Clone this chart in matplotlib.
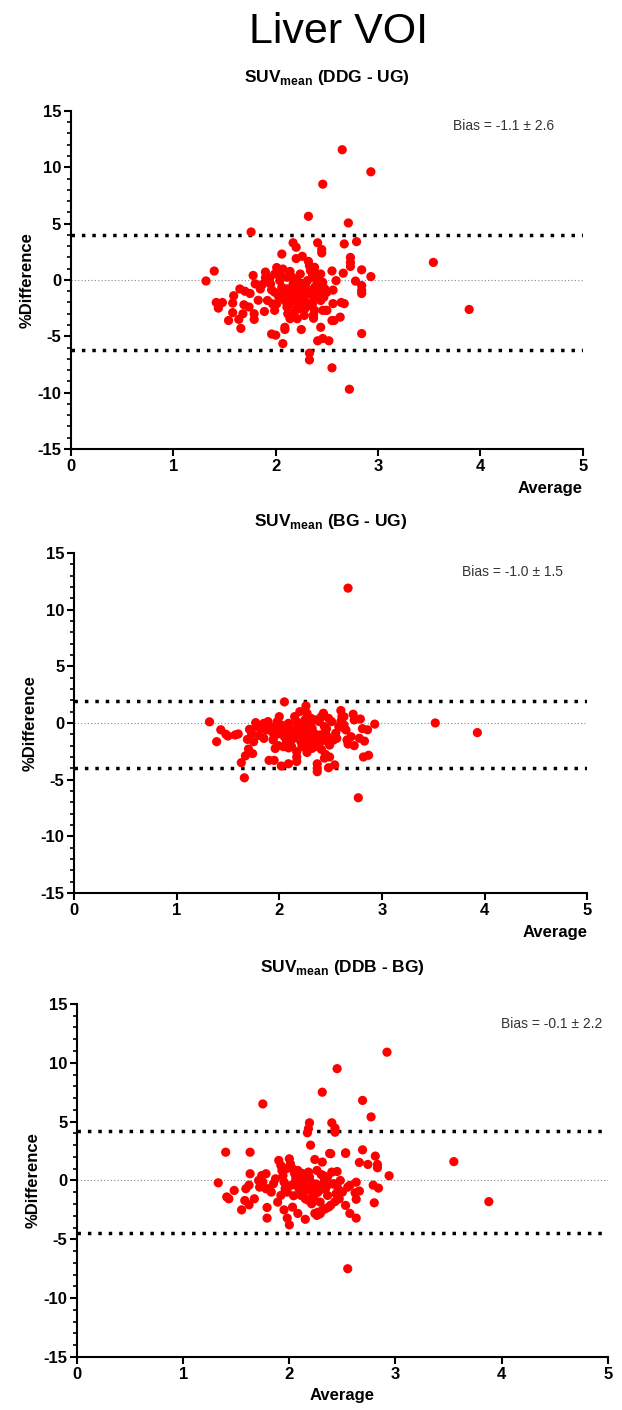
import matplotlib
matplotlib.use("Agg")
import matplotlib.pyplot as plt
from matplotlib.ticker import MultipleLocator

plt.rcParams['font.family'] = ['Liberation Sans', 'DejaVu Sans']
plt.rcParams['mathtext.fontset'] = 'custom'
plt.rcParams['mathtext.rm'] = 'Liberation Sans:bold'
plt.rcParams['mathtext.bf'] = 'Liberation Sans:bold'
plt.rcParams['axes.unicode_minus'] = False

# ---- data ----
# SUVmean (DDG - UG)
ddg_ug_avg = [2.65, 2.93, 2.46, 2.32, 2.71, 1.76, 3.54, 3.89, 1.32, 1.40, 2.84, 2.33, 2.33, 2.55, 2.72,
              2.07, 1.96, 2.00, 2.41, 2.46, 2.52, 2.44, 2.25, 2.09, 2.09, 1.66, 1.54, 1.79, 1.89, 1.68,
              1.58, 1.64, 1.44, 1.42, 1.48, 1.58, 1.59, 1.69, 1.74, 1.79, 1.65, 1.70, 1.75, 1.78, 1.80,
              1.85, 1.90, 1.90, 2.01, 2.06, 2.17, 2.20, 2.20, 2.26, 2.41, 2.45, 2.45, 2.67, 2.79, 2.73,
              2.73, 2.73, 2.66, 2.84, 2.78, 2.84, 2.84, 2.84, 2.93, 2.55, 2.59, 2.56, 2.56, 2.64, 2.67,
              2.63, 2.57, 2.55, 2.46, 2.50, 2.37, 2.37,
              1.92, 1.95, 1.96, 1.97, 1.99, 2.02, 2.04, 2.06, 2.07, 2.09, 2.11, 2.12, 2.14, 2.16, 2.17,
              2.18, 2.19, 2.21, 2.22, 2.23, 2.24, 2.26, 2.28, 2.29, 2.31, 2.32, 2.33, 2.34, 2.36, 2.38,
              2.39, 2.40, 2.42, 2.43, 2.44, 2.47, 2.49, 2.38, 2.34, 2.28, 2.21, 2.14, 2.12, 2.26, 2.17,
              2.14, 2.21, 2.11, 2.06, 1.99, 2.01, 1.92, 2.44, 2.46, 2.48, 2.38, 2.37, 2.31, 2.24, 2.11,
              2.07, 1.99, 1.94, 2.50,
              2.19, 2.23, 2.27, 2.15, 2.30, 2.35, 2.20, 2.25, 2.18, 2.29, 2.10, 2.36, 2.03, 1.87, 1.83,
              2.42, 2.13, 2.28, 2.22, 2.05]
ddg_ug_diff = [11.56, 9.6, 8.5, 5.65, 5.06, 4.26, 1.56, -2.62, -0.09, 0.79, -4.76, -6.5, -7.1, -7.8, -9.7,
               -5.65, -4.8, -4.9, -5.4, -5.2, -5.4, -4.2, -4.4, -4.2, -4.4, -4.3, -3.6, -3.5, -2.8, -3.0,
               -2.9, -3.5, -2.5, -2.0, -2.0, -2.05, -1.4, -2.2, -2.4, -3.0, -0.8, -1.0, -1.2, 0.4, -0.35,
               -0.8, 0.7, 0.2, 1.1, 2.3, 3.3, 2.9, 1.9, 2.1, 3.3, 2.7, 2.4, 3.2, 3.4, 2.0,
               1.56, 1.2, 0.6, 0.9, -0.1, -0.5, -0.9, -1.2, 0.3, 0.8, -0.06, -0.9, -2.1, -2.0, -2.1,
               -3.3, -3.6, -3.6, -2.7, -2.7, -3.4, -3.1,
               0.24, -0.35, -0.88, -2.12, -2.7, 0.53, -0.06, -0.65, -1.24, -1.82, -2.41, -3.0, 0.76, 0.24, -0.35,
               -0.79, -1.24, -1.68, -2.12, -2.56, -1.97, -1.53, -0.94, -0.5, -0.06, 1.65, 1.26, 0.82, 0.38, 1.12,
               0.53, -0.06, -0.65, -1.24, -1.82, -1.53, -2.7, -2.7, -2.26, -3.15, -3.44, -3.44, -3.0, -0.65, -1.82,
               -1.38, -0.06, -0.79, -1.53, -1.09, -2.12, -1.82, 0.53, -0.21, -0.79, -0.65, -1.53, -1.24, 0.53, 0.24,
               0.97, 0.53, 0.09, -1.09,
               -1.45, -2.3, -1.15, -1.6, -2.0, -1.0, -2.6, -0.3, -2.9, -2.5, -1.9, -2.1, -1.5, -0.4, -1.8,
               0.1, -2.2, -0.7, -0.9, 0.3]

# SUVmean (BG - UG)
bg_ug_avg = [2.67, 3.52, 3.93, 2.77, 1.66, 1.32, 1.39, 2.05, 2.26, 2.20, 2.37, 2.37, 2.37, 2.02, 2.09,
             2.17, 2.17, 2.48, 2.54, 2.82, 2.87, 1.63, 1.67, 1.74, 1.70, 1.90, 1.95, 1.96, 1.99, 2.09,
             2.27, 2.44, 2.49, 2.73, 2.83, 2.78, 2.86, 2.81, 2.93, 2.79, 2.72, 2.73, 2.60, 2.63, 1.43,
             1.48, 1.50, 1.57, 1.60,
             1.77, 1.78, 1.71, 1.73, 1.69, 1.75, 1.82, 1.85, 1.89, 1.91, 1.93, 1.95, 1.98, 2.00, 2.02,
             2.04, 2.05, 2.07, 2.09, 2.10, 2.12, 2.14, 2.15, 2.17, 2.18, 2.19, 2.20, 2.21, 2.22, 2.23,
             2.25, 2.26, 2.27, 2.28, 2.29, 2.30, 2.31, 2.32, 2.34, 2.36, 2.37, 2.38, 2.39, 2.41, 2.43,
             2.44, 2.45, 2.47, 2.48, 2.49, 2.51, 2.53, 2.56, 2.58, 2.60, 2.61, 2.63, 2.65, 2.66, 2.70,
             2.67, 2.45, 2.41, 2.32, 2.17, 2.12, 2.04, 2.27, 2.36, 2.48, 1.97, 1.87, 1.94, 1.85,
             2.24, 2.33, 2.19, 2.29, 2.13, 2.40, 2.06, 2.35, 2.21, 2.31, 2.01, 2.46, 2.16, 2.26, 1.80,
             2.55, 2.62, 2.11, 2.42, 2.28]
bg_ug_diff = [11.9, 0.0, -0.85, -6.6, -4.84, 0.1, -1.65, 1.86, 1.5, 1.0, -4.3, -3.6, -4.0, -3.8, -3.6,
              -3.4, -3.0, -3.95, -3.7, -3.0, -2.85, -3.5, -2.9, -2.7, -2.3, -3.3, -3.3, -2.25, -2.0, -2.2,
              -2.6, -3.1, -3.0, -2.0, -1.6, -1.35, -0.6, -0.5, -0.1, 0.35, 0.77, 0.27, 1.1, 0.56, -0.6,
              -1.0, -1.15, -1.06, -0.97,
              0.03, -0.32, -0.56, -0.91, -1.45, -1.65, -0.47, -0.03, 0.12, -0.32, -0.77, -1.21, 0.12, 0.56, -0.18,
              -0.62, -1.21, -1.65, -0.03, -0.47, -0.91, -1.36, 0.56, 0.12, -0.32, -0.77, -1.21, -1.65, -2.09, -0.32,
              0.27, -0.62, -1.06, -1.5, -1.95, -0.03, 0.41, -0.47, -0.91, -1.36, -1.8, -2.09, 0.12, 0.56, 0.86,
              -0.32, -0.77, -1.21, -1.74, -1.95, 0.12, -1.5, -1.36, -0.32, 0.12, 0.56, -0.18, -0.62, -1.5, -1.21,
              -1.86, -2.77, -2.33, -2.24, -2.54, -2.09, -2.09, 0.86, 0.27, 0.41, -0.32, -0.62, -1.5, -1.36,
              -0.85, -1.15, -1.0, -0.2, -0.6, -1.05, -0.85, -1.6, -1.4, -0.75, -0.95, -0.5, -1.25, -1.8, -1.1,
              -0.9, -0.4, -1.5, -1.55, -0.25]

# SUVmean (DDB - BG)
ddb_bg_avg = [2.92, 2.45, 2.31, 1.75, 2.69, 2.77, 2.19, 2.18, 2.17, 2.40, 2.43, 2.43, 2.20, 2.55, 3.55,
              3.88, 1.33, 1.40, 1.63, 1.63, 2.69, 2.53, 2.53, 2.38, 2.81, 2.83, 2.83, 2.74, 2.66, 2.94,
              2.79, 2.84, 2.80, 2.63, 2.57, 2.63, 2.62, 2.63, 2.66, 2.00, 1.98, 2.15, 2.08, 1.79, 1.79,
              1.55, 1.43, 1.41, 1.48, 1.58, 1.62, 1.67, 1.59, 1.62, 1.89, 1.95, 2.03, 2.24, 2.27, 2.34,
              2.39, 2.43,
              1.71, 1.74, 1.75, 1.78, 1.80, 1.83, 1.87, 1.90, 1.92, 1.93, 1.94, 1.95, 1.96, 1.98, 2.00,
              2.01, 2.03, 2.05, 2.06, 2.08, 2.09, 2.11, 2.13, 2.14, 2.15, 2.17, 2.18, 2.19, 2.20, 2.21,
              2.23, 2.24, 2.26, 2.27, 2.28, 2.29, 2.31, 2.32, 2.33, 2.34, 2.36, 2.37, 2.39, 2.40, 2.42,
              2.44, 2.45, 2.46, 2.47, 2.48, 2.50, 2.53, 2.55, 2.57, 1.97, 2.08, 2.11, 2.21, 2.31, 1.92,
              1.85, 1.78, 1.72, 2.29, 2.26,
              2.16, 2.22, 2.12, 2.25, 2.35, 2.04, 2.30, 2.18, 2.41, 2.07, 2.27, 2.14, 2.36, 2.23, 2.02]
ddb_bg_diff = [10.9, 9.5, 7.5, 6.5, 6.8, 5.4, 4.9, 4.4, 4.05, 4.9, 4.45, 4.1, 3.0, -7.5, 1.6,
               -1.8, -0.2, 2.4, 2.4, 0.57, 2.6, 2.3, 2.35, 2.3, 2.07, 1.36, 1.08, 1.36, 1.53, 0.4,
               -0.4, -0.65, -1.9, -3.2, -2.8, -1.6, -1.05, -0.15, -0.9, -3.77, -3.2, -3.3, -2.8, -3.2, -2.3,
               -2.5, -1.56, -1.4, -0.85, -1.7, -2.07, -1.56, -0.7, -0.4, -1.84, -2.5, -2.27, -2.8, -2.7, -2.4,
               -2.1, -1.8,
               0.0, 0.42, -0.14, 0.57, -0.71, -0.99, 0.14, 1.7, 1.27, 0.85, 0.42, -0.14, -0.71, -0.99, 1.84,
               1.42, 0.99, 0.57, 0.14, -0.28, -0.71, 0.42, 0.0, -0.42, -1.56, -0.71, 0.71, 0.28, -0.14, -0.99,
               -1.42, 1.78, 0.85, -0.42, -0.85, -1.84, 1.56, 0.42, 0.0, -0.71, -1.27, -2.27, 2.27, 0.71, -0.28,
               -1.13, 0.76, -0.71, -1.56, 0.0, -0.99, -2.12, -0.57, -0.42, 0.99, 0.85, -1.27, -1.98, -2.55, -1.27,
               -0.28, -0.71, -0.57, -2.83, -2.97,
               -0.5, -1.1, 0.6, -0.3, -0.5, -1.3, 0.5, -1.7, -0.3, 0.2, -1.0, -0.9, 0.3, -0.6, -0.4]

titles = ["(DDG - UG)", "(BG - UG)", "(DDB - BG)"]
bias_texts = ["Bias = -1.1 \u00b1 2.6", "Bias = -1.0 \u00b1 1.5", "Bias = -0.1 \u00b1 2.2"]
limits = [(4.0, -6.2), (1.92, -3.94), (4.21, -4.43)]

fig = plt.figure(figsize=(6.22, 14.10), dpi=100)
fig.text(0.545, 0.977, "Liver VOI", ha='center', va='center', fontsize=31)

# axes rectangles [left, bottom, width, height]
rects = [[0.114, 0.6816, 0.823, 0.2397],
         [0.119, 0.3667, 0.825, 0.2411],
         [0.124, 0.0376, 0.853, 0.2504]]
title_y = [0.945, 0.630, 0.314]
bias_pos = [(4.72, 13.7), (4.76, 13.3), (4.95, 13.3)]

data = [(ddg_ug_avg, ddg_ug_diff), (bg_ug_avg, bg_ug_diff), (ddb_bg_avg, ddb_bg_diff)]

for i in range(3):
    ax = fig.add_axes(rects[i])
    xs, ys = data[i]
    ax.scatter(xs, ys, s=44, color='#ff0000', edgecolors='none', zorder=3)
    ax.axhline(0, color='#888888', lw=0.8, ls=(0, (1, 2)), zorder=1)
    for lim in limits[i]:
        ax.axhline(lim, color='black', lw=2.5, ls=(0, (1, 2)), zorder=2)

    ax.set_xlim(0, 5)
    ax.set_ylim(-15, 15)
    ax.xaxis.set_major_locator(MultipleLocator(1))
    ax.yaxis.set_major_locator(MultipleLocator(5))
    ax.yaxis.set_minor_locator(MultipleLocator(1))
    for s in ['top', 'right']:
        ax.spines[s].set_visible(False)
    for s in ['left', 'bottom']:
        ax.spines[s].set_linewidth(1.5)
    ax.tick_params(which='major', length=5, width=1.5, labelsize=12, pad=2)
    ax.tick_params(which='minor', length=3, width=1.2)
    for lab in ax.get_xticklabels() + ax.get_yticklabels():
        lab.set_fontweight('bold')

    ax.set_ylabel("%Difference", fontsize=12, fontweight='bold', labelpad=2)
    if i < 2:
        ax.set_xlabel("Average", fontsize=12, fontweight='bold', ha='right')
        ax.xaxis.set_label_coords(1.0, -0.095)
    else:
        ax.set_xlabel("Average", fontsize=12, fontweight='bold')
        ax.xaxis.set_label_coords(0.5, -0.088)

    bx, by = bias_pos[i]
    ax.text(bx, by, bias_texts[i], ha='right', va='center', fontsize=10, color='#333333')

    cx = rects[i][0] + rects[i][2] / 2
    fig.text(cx, title_y[i], r"SUV$_{\mathrm{mean}}$ " + titles[i], ha='center', va='center',
             fontsize=12.5, fontweight='bold')

fig.savefig("out.png", dpi=100)
